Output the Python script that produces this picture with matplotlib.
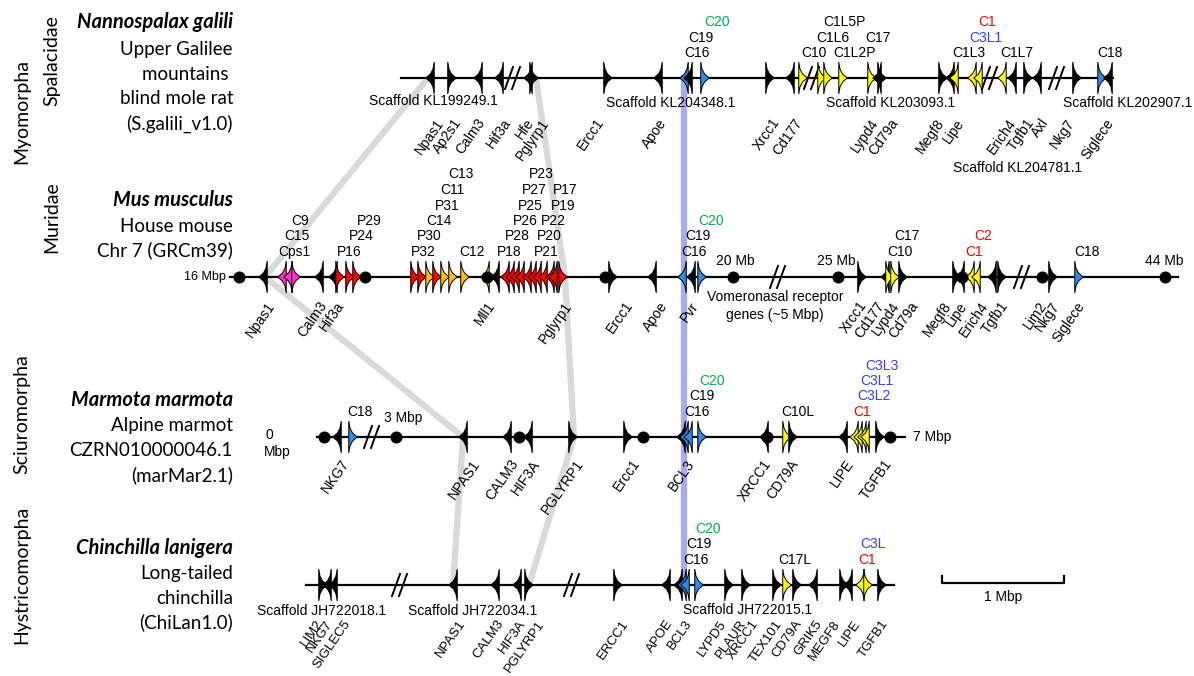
import matplotlib
matplotlib.use('Agg')
import matplotlib.pyplot as plt
from matplotlib.patches import Polygon

plt.rcParams['font.family'] = ['Liberation Sans', 'DejaVu Sans']

# ---------------- data ----------------
track_y = [78, 277, 437, 585]
line_start = [401, 230, 317, 306]
line_end = [1113, 1178, 905, 894]

# genes per track: position, direction, colour code
t1_x = [430, 452, 478, 499, 528, 534, 608, 658, 684, 688, 705, 770, 790, 803, 822, 828,
        843, 872, 877, 882, 943, 950, 954, 972, 978, 1002, 1012, 1028, 1037, 1077, 1102, 1108]
t1_dir = "LRLLLRRLLLRRLRRRRRLRRLLLLLLRLRRL"
t1_col = "kkkkkkkkbkbkkyyyyykkkkyyyykkkkbk"

t2_x = [263, 282, 288, 296, 319, 333, 340, 350, 357, 415, 422, 430, 437, 445, 453, 465,
        485, 495, 505, 510, 515, 520, 527, 532, 537, 543, 550, 553, 563, 613, 652, 682,
        691, 702, 862, 885, 890, 895, 903, 957, 960, 970, 976, 992, 1002, 1053, 1079]
t2_dir = "LLLRLLRRRRRRRRRRLLLLLLLLLLLLRRLLLRRLRRRRLLLLRRR"
t2_col = "kmmmkkrrrrrorooookrrrrrrrrrrrkkbkbkkyykkkyykkkb"

t3_x = [337, 353, 463, 507, 528, 573, 628, 681, 684, 688, 702, 764, 787, 793, 843,
        854, 858, 862, 865, 880]
t3_dir = "LRLLLRRLLLRLRRLLLLLR"
t3_col = "kbkkkkkkbbbkykkyyyyk"

t4_x = [323, 327, 333, 453, 495, 517, 529, 618, 666, 678, 682, 685, 699, 729, 746, 777,
        787, 797, 813, 844, 848, 860, 868, 882]
t4_dir = "RLLLLLRRLLLLRRRRRRLRLLRR"
t4_col = "kkkkkkkkkkbbbkkkykkkkyyk"

# chromosome position dots and breaks
t1_dots, t1_breaks = [], [513, 812, 990, 1057]
t2_dots, t2_breaks = [239, 365, 487, 605, 733, 838, 962, 1042, 1165], [778, 1022]
t3_dots, t3_breaks = [324, 396, 519, 643, 767, 890], [372]
t4_dots, t4_breaks = [], [400, 572]

# stacked cluster labels: x, level above the line, text, colour
t1_clab_x = [697, 701, 717, 814, 854, 833, 878, 844, 969, 986, 987, 1017, 1110]
t1_clab_lv = [0, 1, 2, 0, 0, 1, 1, 2, 0, 1, 2, 0, 0]
t1_clab_t = ["C16", "C19", "C20", "C10", "C1L2P", "C1L6", "C17", "C1L5P", "C1L3", "C3L1", "C1", "C1L7", "C18"]
t1_clab_c = "kkgkkkkkkbrkk"

t2_clab_x = [300, 297, 294, 369, 361, 349, 461, 452, 447, 439, 429, 423, 472, 541, 534, 565, 530,
             563, 525, 553, 517, 549, 509, 546, 694, 698, 711, 900, 907, 974, 983, 1087]
t2_clab_lv = [2, 1, 0, 2, 1, 0, 5, 4, 3, 2, 1, 0, 0, 5, 4, 4, 3, 3, 2, 2, 1, 1, 0, 0, 0, 1, 2, 0, 1, 0, 1, 0]
t2_clab_t = ["C9", "C15", "Cps1", "P29", "P24", "P16", "C13", "C11", "P31", "C14", "P30", "P32", "C12",
             "P23", "P27", "P17", "P25", "P19", "P26", "P22", "P28", "P20", "P18", "P21",
             "C16", "C19", "C20", "C10", "C17", "C1", "C2", "C18"]
t2_clab_c = "kkkkkkkkkkkkkkkkkkkkkkkkkkgkkrrk"

t3_clab_x = [360, 697, 702, 712, 798, 862, 874, 877, 882]
t3_clab_lv = [0, 0, 1, 2, 0, 0, 1, 2, 3]
t3_clab_t = ["C18", "C16", "C19", "C20", "C10L", "C1", "C3L2", "C3L1", "C3L3"]
t3_clab_c = "kkkgkrbbb"

t4_clab_x = [696, 699, 708, 795, 867, 873]
t4_clab_lv = [0, 1, 2, 0, 0, 1]
t4_clab_t = ["C16", "C19", "C20", "C17L", "C1", "C3L"]
t4_clab_c = "kkgkrb"

# gene names (rotated) : right-end x, text
t1_gn_x = [442, 460, 483, 510, 532, 547, 602, 665, 778, 801, 877, 897, 943, 962, 1015, 1033, 1047, 1073, 1112]
t1_gn_t = ["Npas1", "Ap2s1", "Calm3", "Hif3a", "Hfe", "Pglyrp1", "Ercc1", "Apoe", "Xrcc1", "Cd177",
           "Lypd4", "Cd79a", "Megf8", "Lipe", "Erich4", "Tgfb1", "Axl", "Nkg7", "Siglece"]
t2_gn_x = [273, 325, 343, 493, 570, 631, 666, 697, 865, 883, 898, 917, 950, 965, 987, 1007, 1045, 1058, 1083]
t2_gn_t = ["Npas1", "Calm3", "Hif3a", "Mll1", "Pglyrp1", "Ercc1", "Apoe", "Pvr", "Xrcc1", "Cd177",
           "Lypd4", "Cd79a", "Megf8", "Lipe", "Erich4", "Tgfb1", "Lim2", "Nkg7", "Siglece"]
t3_gn_x = [348, 478, 517, 538, 582, 638, 693, 770, 797, 852, 890]
t3_gn_t = ["NKG7", "NPAS1", "CALM3", "HIF3A", "PGLYRP1", "Ercc1", "BCL3", "XRCC1", "CD79A", "LIPE", "TGFB1"]
t4_gn_x = [322, 332, 350, 465, 503, 525, 544, 628, 673, 692, 726, 746, 758, 782, 802, 822, 840, 860, 888]
t4_gn_t = ["LIM2", "NKG7", "SIGLEC5", "NPAS1", "CALM3", "HIF3A", "PGLYRP1", "ERCC1", "APOE", "BCL3",
           "LYPD5", "PLAUR", "XRCC1", "TEX101", "CD79A", "GRIK5", "MEGF8", "LIPE", "TGFB1"]
gn_top = [118, 301, 459, 620]
gn_size = [10, 10, 10, 9.5]

# scaffold names
scaf_t = ["Scaffold KL199249.1", "Scaffold KL204348.1", "Scaffold KL203093.1", "Scaffold KL204781.1",
          "Scaffold KL202907.1", "Scaffold JH722018.1", "Scaffold JH722034.1", "Scaffold JH722015.1"]
scaf_x = [433, 671, 891, 1018, 1128, 322, 473, 748]
scaf_y = [101, 103, 103, 168, 103, 611, 611, 610]

# orthologue connectors (x at each track)
npas1_x = [428, 265, 463, 453]
pglyrp1_x = [536, 565, 574, 529]
bcl3_x = 684

# species panel
groups = ["Myomorpha", "Spalacidae", "Muridae", "Sciuromorpha", "Hystricomorpha"]
groups_x = [22, 52, 52, 22, 22]
groups_y = [112, 61, 217, 414, 575]
sp_lines = [["Nannospalax galili", "Upper Galilee", "mountains ", "blind mole rat", "(S.galili_v1.0)"],
            ["Mus musculus", "House mouse", "Chr 7 (GRCm39)"],
            ["Marmota marmota", "Alpine marmot", "CZRN010000046.1", "(marMar2.1)"],
            ["Chinchilla lanigera", "Long-tailed", "chinchilla", "(ChiLan1.0)"]]
sp_y = [[22, 50, 74, 98, 124], [200, 226, 250], [400, 425, 450, 475], [548, 573, 598, 622]]

COL = {'k': 'black', 'b': '#2e8bea', 'y': '#ffff00', 'r': '#ff0000', 'o': '#ffc000',
       'm': '#ff33cc', 'g': '#00b050'}
LAB = {'k': 'black', 'g': '#00b050', 'r': '#ff0000', 'b': '#3a3aff'}

# ---------------- drawing ----------------
W, H = 1194, 676
fig = plt.figure(figsize=(W / 100, H / 100), dpi=100)
ax = fig.add_axes([0, 0, 1, 1])
ax.set_xlim(0, W)
ax.set_ylim(H, 0)
ax.axis('off')

GRAY = '#d9d9d9'
ax.plot(npas1_x, track_y, color=GRAY, lw=4.5, solid_capstyle='butt', zorder=1)
ax.plot(pglyrp1_x, track_y, color=GRAY, lw=4.5, solid_capstyle='butt', zorder=1)
ax.plot([bcl3_x, bcl3_x], [track_y[0], track_y[3]], color='#a9a9f4', lw=4.5, zorder=1.5)


def glyph(x, y, d, c):
    s = -1 if d == 'L' else 1
    h, w = 16, 8.5
    b = x - s * w / 2
    pts = [(b, y - h), (b + s * 1.3, y - 0.55 * h), (b + s * 3.8, y - 0.25 * h), (b + s * w, y),
           (b + s * 3.8, y + 0.25 * h), (b + s * 1.3, y + 0.55 * h), (b, y + h)]
    ax.add_patch(Polygon(pts, closed=True, facecolor=COL[c],
                         edgecolor='black', lw=0.7, zorder=4, joinstyle='miter'))


tracks = [
    (t1_x, t1_dir, t1_col, t1_dots, t1_breaks, t1_clab_x, t1_clab_lv, t1_clab_t, t1_clab_c, t1_gn_x, t1_gn_t),
    (t2_x, t2_dir, t2_col, t2_dots, t2_breaks, t2_clab_x, t2_clab_lv, t2_clab_t, t2_clab_c, t2_gn_x, t2_gn_t),
    (t3_x, t3_dir, t3_col, t3_dots, t3_breaks, t3_clab_x, t3_clab_lv, t3_clab_t, t3_clab_c, t3_gn_x, t3_gn_t),
    (t4_x, t4_dir, t4_col, t4_dots, t4_breaks, t4_clab_x, t4_clab_lv, t4_clab_t, t4_clab_c, t4_gn_x, t4_gn_t),
]

for i, (gx, gd, gc, dots, brks, cx, clv, ct, cc, nx, nt) in enumerate(tracks):
    y = track_y[i]
    ax.plot([line_start[i], line_end[i]], [y, y], color='black', lw=1.6, zorder=2)
    for x, d, c in zip(gx, gd, gc):
        glyph(x, y, d, c)
    if dots:
        ax.scatter(dots, [y] * len(dots), s=75, color='black', zorder=5, linewidths=0)
    for bx in brks:
        for off in (-4, 3):
            ax.plot([bx + off - 4, bx + off + 4], [y + 11, y - 11], color='black', lw=1.4, zorder=3)
    for x, lv, t, c in zip(cx, clv, ct, cc):
        ax.text(x, y - 25 - 15.5 * lv, t, ha='center', va='center', fontsize=10,
                color=LAB[c], zorder=6)
    for x, t in zip(nx, nt):
        ax.text(x - 7, gn_top[i] - 2, t, rotation=55, rotation_mode='anchor',
                ha='right', va='top', fontsize=gn_size[i], zorder=6)

for t, x, y in zip(scaf_t, scaf_x, scaf_y):
    ax.text(x, y, t, ha='center', va='center', fontsize=10)

# position annotations
ax.text(226, 277, "16 Mbp", ha='right', va='center', fontsize=9)
for t, x in [("20 Mb", 735), ("25 Mb", 836), ("44 Mb", 1164)]:
    ax.text(x, 261, t, ha='center', va='center', fontsize=10)
ax.text(775, 297, "Vomeronasal receptor", ha='center', va='center', fontsize=10)
ax.text(775, 315, "genes (~5 Mbp)", ha='center', va='center', fontsize=10)
ax.text(266, 435, "0", ha='left', va='center', fontsize=10)
ax.text(264, 452, "Mbp", ha='left', va='center', fontsize=10)
ax.text(403, 418, "3 Mbp", ha='center', va='center', fontsize=10)
ax.text(913, 437, "7 Mbp", ha='left', va='center', fontsize=10)

# scale bar
ax.plot([942, 942, 1064, 1064], [576, 583, 583, 576], color='black', lw=1.6)
ax.text(1003, 597, "1 Mbp", ha='center', va='center', fontsize=10)

# species panel
for g, x, y in zip(groups, groups_x, groups_y):
    ax.text(x, y, g, rotation=90, ha='center', va='center', fontsize=14, family=['Lato', 'DejaVu Sans'])
for lines, ys in zip(sp_lines, sp_y):
    for j, (t, y) in enumerate(zip(lines, ys)):
        if j == 0:
            ax.text(233, y, t, ha='right', va='center', fontsize=14.5, family=['Lato', 'DejaVu Sans'],
                    fontweight='bold', fontstyle='italic')
        else:
            ax.text(233, y, t, ha='right', va='center', fontsize=13.5, family=['Lato', 'DejaVu Sans'])

fig.savefig('out.png', dpi=100)
